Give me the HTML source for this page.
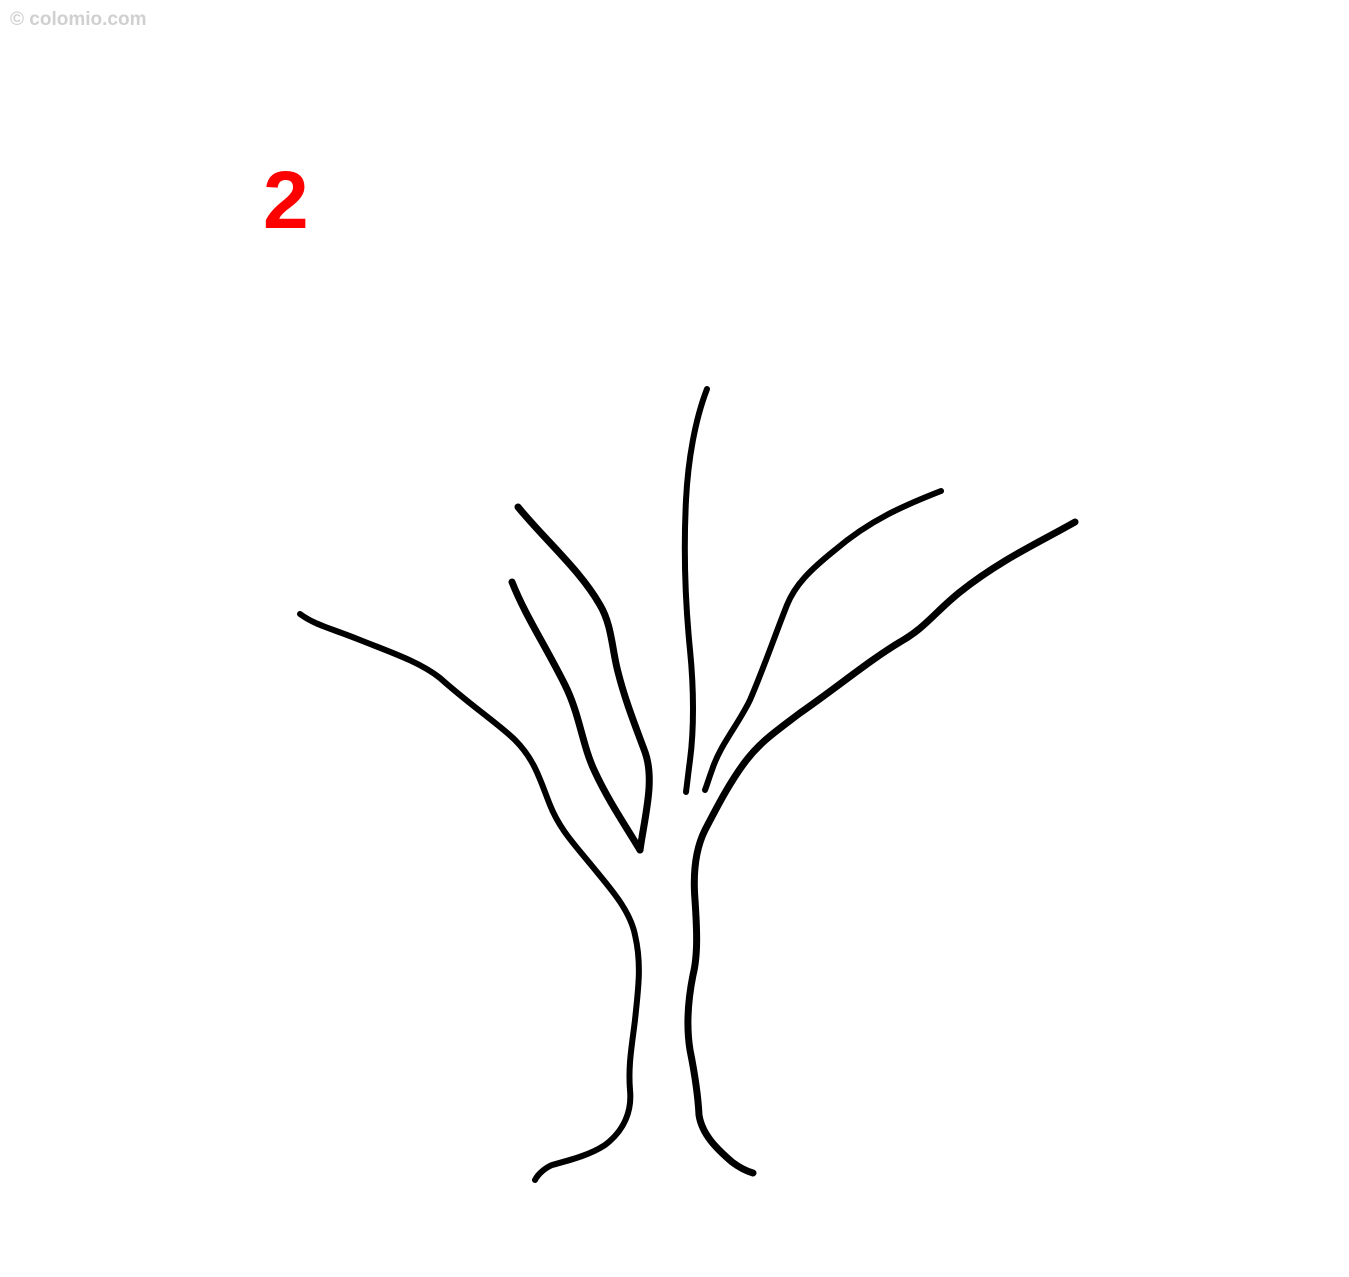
<!DOCTYPE html>
<html><head><meta charset="utf-8"><style>
html,body{margin:0;padding:0;background:#fff;}
svg{display:block;}
</style></head><body>
<svg width="1349" height="1277" viewBox="0 0 1349 1277">
<rect width="1349" height="1277" fill="#fff"/>
<text x="10" y="25" font-family="Liberation Sans, sans-serif" font-size="19" font-weight="bold" fill="#d0d0d0">© colomio.com</text>
<text x="263" y="228" font-family="Liberation Sans, sans-serif" font-size="82" font-weight="bold" fill="#ff0000">2</text>
<g fill="none" stroke="#000" stroke-width="6" stroke-linecap="round" stroke-linejoin="round">
<path d="M300,614 C315,625 330,628 360,640 C390,652 420,662 440,678 C470,705 500,725 515,740 C535,760 540,780 550,805 C560,830 575,845 592,866 C610,888 630,910 635,935 C642,965 638,990 635,1020 C632,1045 628,1065 630,1090 C632,1110 625,1130 605,1145 C590,1155 570,1160 552,1165 C545,1168 538,1174 535,1180"/>
<path stroke-width="7" d="M512,582 C525,615 545,645 565,685 C580,715 582,745 595,772 C608,800 625,825 640,850"/>
<path stroke-width="7" d="M518,507 C545,540 580,570 600,605 C612,625 612,650 618,672 C625,700 635,725 645,752 C655,780 645,815 640,850"/>
<path d="M707,389 C695,420 688,460 686,500 C683,560 686,610 690,650 C694,690 694,730 690,760 C688,775 687,785 686,792"/>
<path d="M941,491 C905,505 870,520 835,550 C810,570 795,585 787,605 C775,635 765,665 750,700 C738,725 720,745 712,770 C709,778 707,785 705,790"/>
<path stroke-width="7" d="M1075,522 C1040,542 1000,560 960,592 C935,612 925,628 900,642 C870,660 840,685 800,713 C775,732 760,742 745,762 C730,782 718,805 705,830 C695,850 693,875 695,900 C697,930 698,955 693,975 C688,1000 686,1025 690,1050 C695,1075 698,1095 699,1115 C702,1135 718,1150 732,1162 C740,1168 746,1171 753,1173"/>
</g>
</svg>
</body></html>
